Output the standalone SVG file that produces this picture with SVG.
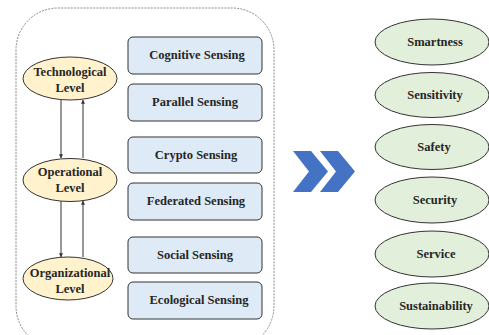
<svg xmlns="http://www.w3.org/2000/svg" width="489" height="335" viewBox="0 0 489 335">
<defs>
<style>
.t{font-family:"Liberation Serif","Times New Roman",serif;font-weight:bold;font-size:12.5px;fill:#262626;text-anchor:middle}
.box{fill:#DEEBF7;stroke:#333;stroke-width:1}
.lvl{fill:#FFF2CC;stroke:#333;stroke-width:1}
.out{fill:#E2EFDA;stroke:#333;stroke-width:1}
.ar{stroke:#333;stroke-width:1;fill:none;marker-end:url(#ah)}
</style>
<marker id="ah" viewBox="0 0 6 6" refX="5.5" refY="3" markerWidth="4" markerHeight="4" orient="auto">
<path d="M0,0 L6,3 L0,6 z" fill="#333"/>
</marker>
</defs>
<rect x="16" y="8" width="258" height="340" rx="42" fill="none" stroke="#888" stroke-width="1" stroke-dasharray="2,1.2"/>
<g id="connectors">
<line class="ar" x1="61" y1="100" x2="61" y2="158"/>
<line class="ar" x1="83" y1="158" x2="83" y2="100"/>
<line class="ar" x1="61" y1="201" x2="61" y2="257"/>
<line class="ar" x1="83" y1="257" x2="83" y2="201"/>
</g>
<g id="tech"><ellipse class="lvl" cx="70" cy="78.5" rx="47" ry="21.5"/><text class="t" x="70" y="76">Technological</text><text class="t" x="70" y="92">Level</text></g>
<g id="oper"><ellipse class="lvl" cx="70" cy="180" rx="47" ry="21.5"/><text class="t" x="70" y="176">Operational</text><text class="t" x="70" y="192">Level</text></g>
<g id="org"><ellipse class="lvl" cx="68" cy="278.5" rx="45" ry="21.5"/><text class="t" x="70" y="277">Organizational</text><text class="t" x="70" y="293">Level</text></g>
<g id="cog"><rect class="box" x="128" y="37" width="134" height="37" rx="5"/><text class="t" x="197" y="59">Cognitive Sensing</text></g>
<g id="par"><rect class="box" x="128" y="84" width="134" height="37" rx="5"/><text class="t" x="195" y="106">Parallel Sensing</text></g>
<g id="cry"><rect class="box" x="128" y="137" width="134" height="36" rx="5"/><text class="t" x="196" y="159">Crypto Sensing</text></g>
<g id="fed"><rect class="box" x="128" y="183" width="134" height="37" rx="5"/><text class="t" x="196" y="205">Federated Sensing</text></g>
<g id="soc"><rect class="box" x="128" y="237" width="134" height="36" rx="5"/><text class="t" x="195" y="259">Social Sensing</text></g>
<g id="eco"><rect class="box" x="128" y="282" width="134" height="37" rx="5"/><text class="t" x="199" y="304">Ecological Sensing</text></g>
<g id="arrow" fill="#4472C4">
<polygon points="293,151 311,151 328,171.5 311,192 293,192 309,171.5"/>
<polygon points="320,151 338,151 355,171.5 338,192 320,192 336,171.5"/>
</g>
<g id="smart"><ellipse class="out" cx="432" cy="42" rx="57" ry="23"/><text class="t" x="435" y="46">Smartness</text></g>
<g id="sens"><ellipse class="out" cx="432" cy="95" rx="57" ry="22.5"/><text class="t" x="435" y="99">Sensitivity</text></g>
<g id="safe"><ellipse class="out" cx="432" cy="147" rx="57" ry="22.5"/><text class="t" x="434" y="151">Safety</text></g>
<g id="secu"><ellipse class="out" cx="432" cy="200" rx="57" ry="23"/><text class="t" x="435" y="204">Security</text></g>
<g id="serv"><ellipse class="out" cx="432" cy="254" rx="57" ry="23"/><text class="t" x="436" y="258">Service</text></g>
<g id="sust"><ellipse class="out" cx="432" cy="306" rx="57" ry="23"/><text class="t" x="436" y="310">Sustainability</text></g>
</svg>
